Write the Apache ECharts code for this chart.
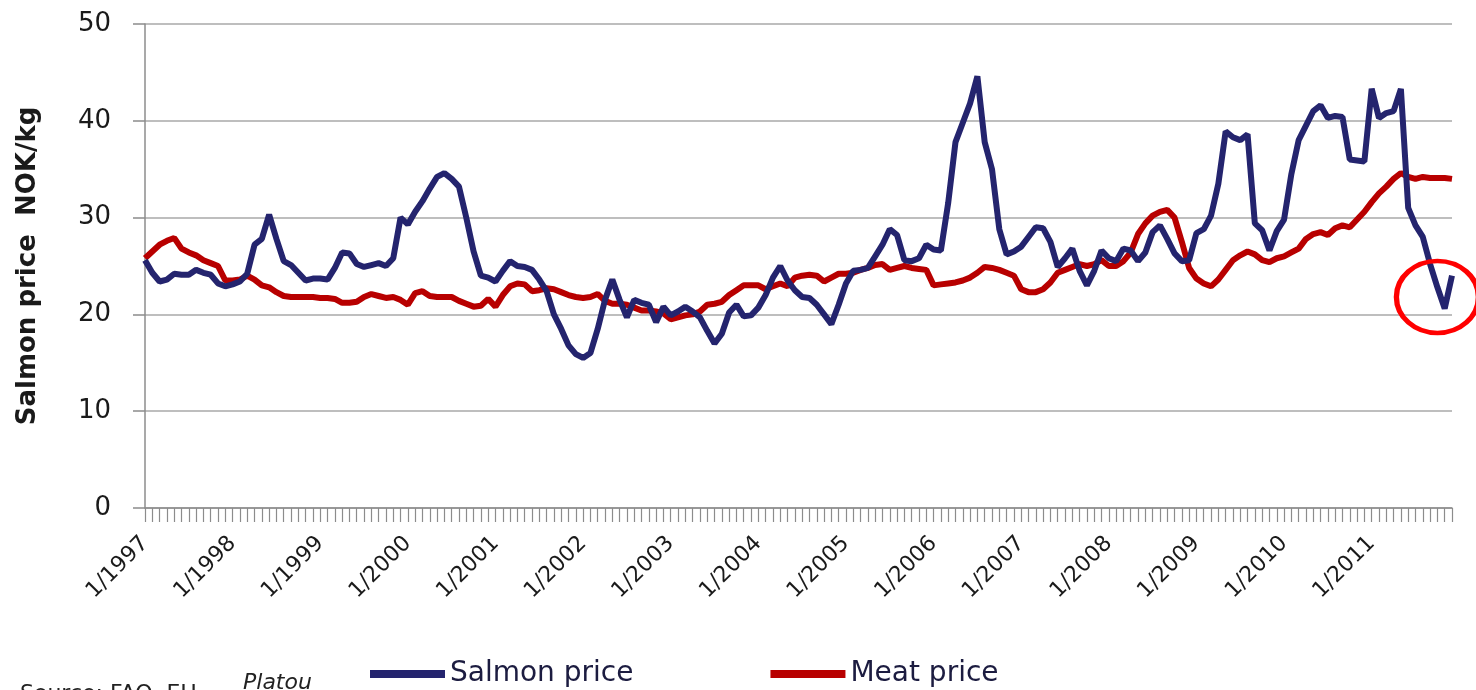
<!DOCTYPE html>
<html>
<head>
<meta charset="utf-8">
<script src="https://cdn.jsdelivr.net/npm/echarts@6/dist/echarts.min.js"></script>
<style>
  html, body { margin: 0; padding: 0; background: #fff; }
  #priceChart { width: 1476px; height: 690px; }
</style>
</head>
<body>
<div id="priceChart"></div>
<script>
// monthly, 1/1997 .. 12/2011
const years = [1997, 1998, 1999, 2000, 2001, 2002, 2003, 2004, 2005, 2006, 2007, 2008, 2009, 2010, 2011];
const months = [];
years.forEach(y => {
  for (let m = 1; m <= 12; m++) months.push(m + "/" + y);
});

// Salmon price NOK/kg
const salmonPrice = [
  25.6, 24.3, 23.4, 23.6, 24.2, 24.1, 24.1, 24.6, 24.3, 24.1, 23.2, 22.9,
  23.1, 23.4, 24.2, 27.2, 27.8, 30.3, 27.8, 25.5, 25.1, 24.3, 23.5, 23.7,
  23.7, 23.6, 24.8, 26.4, 26.3, 25.2, 24.9, 25.1, 25.3, 25.0, 25.8, 30.0,
  29.3, 30.6, 31.7, 33.0, 34.2, 34.6, 34.0, 33.2, 30.0, 26.5, 24.0, 23.8,
  23.4, 24.5, 25.5, 25.0, 24.9, 24.6, 23.6, 22.4, 20.0, 18.5, 16.8, 15.9,
  15.5, 16.0, 18.5, 21.5, 23.6, 21.5, 19.7, 21.5, 21.2, 21.0, 19.2, 20.8,
  19.9, 20.3, 20.8, 20.3, 19.7, 18.3, 17.0, 18.0, 20.2, 21.0, 19.8, 19.9,
  20.7, 22.0, 23.8, 25.0, 23.5, 22.5, 21.8, 21.7, 21.0, 20.0, 19.0, 21.0,
  23.2, 24.5, 24.6, 24.8, 26.0, 27.2, 28.8, 28.2, 25.6, 25.5, 25.8, 27.2,
  26.7, 26.6, 31.5, 37.8, 39.8, 41.8, 44.6, 37.8, 35.0, 28.8, 26.2, 26.5,
  27.0, 28.0, 29.0, 28.9, 27.5, 24.9, 25.8, 26.8, 24.5, 23.0, 24.5, 26.6,
  25.8, 25.5, 26.8, 26.6, 25.5, 26.4, 28.5, 29.2, 27.8, 26.3, 25.5, 25.6,
  28.4, 28.8, 30.2, 33.5, 38.9, 38.3, 38.0, 38.6, 29.4, 28.7, 26.6, 28.6,
  29.8, 34.5, 38.0, 39.5, 41.0, 41.6, 40.3, 40.5, 40.4, 36.0, 35.9, 35.8,
  43.3, 40.3, 40.8, 41.0, 43.3, 31.0, 29.2, 28.0, 25.2, 22.8, 20.6, 24.0
];

// Meat price
const meatPrice = [
  25.8, 26.5, 27.2, 27.6, 27.9, 26.8, 26.4, 26.1, 25.6, 25.3, 25.0, 23.5,
  23.5, 23.6, 24.0, 23.6, 23.0, 22.8, 22.3, 21.9, 21.8, 21.8, 21.8, 21.8,
  21.7, 21.7, 21.6, 21.2, 21.2, 21.3, 21.8, 22.1, 21.9, 21.7, 21.8, 21.5,
  21.0, 22.2, 22.4, 21.9, 21.8, 21.8, 21.8, 21.4, 21.1, 20.8, 20.9, 21.6,
  20.8, 22.0, 22.9, 23.2, 23.1, 22.4, 22.5, 22.7, 22.6, 22.3, 22.0, 21.8,
  21.7, 21.8, 22.1, 21.4, 21.1, 21.1, 21.0, 20.7, 20.4, 20.4, 20.3, 20.1,
  19.5, 19.7, 19.9, 20.0, 20.3, 21.0, 21.1, 21.3, 22.0, 22.5, 23.0, 23.0,
  23.0, 22.6, 22.9, 23.2, 22.9, 23.8, 24.0, 24.1, 24.0, 23.4, 23.8, 24.2,
  24.2, 24.3, 24.6, 24.8, 25.1, 25.2, 24.6, 24.8, 25.0, 24.8, 24.7, 24.6,
  23.0, 23.1, 23.2, 23.3, 23.5, 23.8, 24.3, 24.9, 24.8, 24.6, 24.3, 24.0,
  22.6, 22.3, 22.3, 22.6, 23.3, 24.3, 24.6, 24.9, 25.2, 25.0, 25.2, 25.6,
  25.0, 25.0, 25.5, 26.4, 28.3, 29.4, 30.2, 30.6, 30.8, 30.0, 27.5, 24.8,
  23.7, 23.2, 22.9, 23.6, 24.6, 25.6, 26.1, 26.5, 26.2, 25.6, 25.4, 25.8,
  26.0, 26.4, 26.8, 27.8, 28.3, 28.5, 28.2, 28.9, 29.2, 29.0, 29.8, 30.6,
  31.6, 32.5, 33.2, 34.0, 34.6, 34.2, 34.0, 34.2, 34.1, 34.1, 34.1, 34.0
];

const yTicks = [0, 10, 20, 30, 40, 50];
// the red ring marks the late-2011 salmon dip
const dipMark = [176.5, 21.8];

let myChart = echarts.init(document.getElementById("priceChart"));
myChart.setOption({
  animation: false,
  textStyle: { fontFamily: "DejaVu Sans" },
  grid: { left: 145, right: 24, top: 24, bottom: 182 },
  legend: {
    left: 365,
    top: 655,
    itemWidth: 75,
    itemHeight: 8,
    itemGap: 137,
    icon: "rect",
    textStyle: { fontSize: 28, color: "#1c1c40", fontFamily: "DejaVu Sans" },
    data: ["Salmon price", "Meat price"]
  },
  xAxis: {
    type: "category",
    boundaryGap: false,
    data: months,
    axisLine: { lineStyle: { color: "#8c8c8c", width: 1.5 } },
    axisTick: {
      show: true,
      interval: 0,
      length: 14,
      lineStyle: { color: "#8c8c8c", width: 1.2 }
    },
    axisLabel: {
      interval: (idx) => idx % 12 === 0,
      rotate: 45,
      margin: 32,
      fontSize: 22,
      color: "#1a1a1a"
    },
    splitLine: { show: false }
  },
  yAxis: {
    type: "value",
    min: yTicks[0],
    max: yTicks[yTicks.length - 1],
    interval: 10,
    name: "Salmon price  NOK/kg",
    nameLocation: "middle",
    nameGap: 104,
    nameTextStyle: { fontSize: 26, fontWeight: "bold", color: "#1a1a1a" },
    axisLine: { show: true, lineStyle: { color: "#8c8c8c", width: 1.5 } },
    axisTick: { show: true, length: 12, lineStyle: { color: "#8c8c8c", width: 1.5 } },
    axisLabel: { fontSize: 26, color: "#1a1a1a", margin: 34 },
    splitLine: { lineStyle: { color: "#a8a8a8", width: 1.5 } }
  },
  series: [
    {
      name: "Salmon price",
      type: "line",
      data: salmonPrice,
      showSymbol: false,
      symbol: "none",
      z: 3,
      itemStyle: { color: "#24246e" },
      lineStyle: { color: "#24246e", width: 6 },
      markPoint: {
        silent: true,
        symbol: "path://M0,50 A50,50 0 1,1 100,50 A50,50 0 1,1 0,50 Z",
        symbolSize: [82, 72],
        itemStyle: { color: "rgba(0,0,0,0)", borderColor: "#ff0000", borderWidth: 5 },
        label: { show: false },
        data: [{ coord: dipMark }]
      }
    },
    {
      name: "Meat price",
      type: "line",
      data: meatPrice,
      showSymbol: false,
      symbol: "none",
      z: 2,
      itemStyle: { color: "#b80000" },
      lineStyle: { color: "#b80000", width: 6 }
    }
  ],
  graphic: [
    {
      type: "text",
      left: 20,
      top: 683,
      style: { text: "Source: FAO, EU,", font: "22px 'DejaVu Sans'", fill: "#222" }
    },
    {
      type: "text",
      left: 243,
      top: 672,
      style: { text: "Platou", font: "italic 22px 'DejaVu Sans'", fill: "#222" }
    }
  ]
});
</script>
</body>
</html>
